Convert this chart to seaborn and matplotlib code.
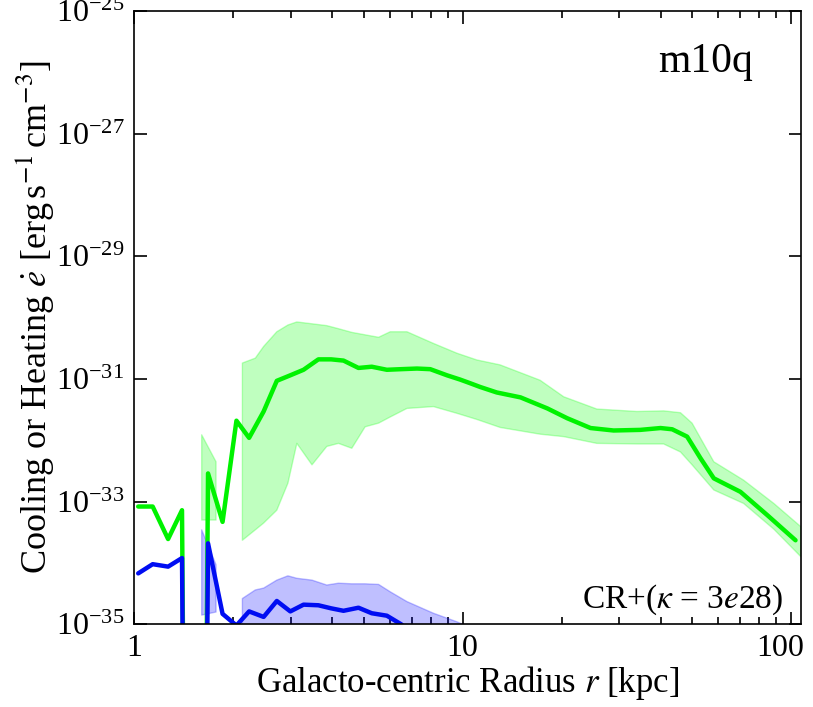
import numpy as np
import pandas as pd
import seaborn as sns
import matplotlib
matplotlib.use("Agg")
import matplotlib.pyplot as plt
from matplotlib.ticker import FixedLocator, NullLocator, LogLocator
from matplotlib.transforms import ScaledTranslation

# radius grid of the profiles [kpc]
radius = [1.03, 1.14, 1.27, 1.40, 1.53, 1.68, 1.86, 2.05, 2.24, 2.48,
          2.72, 2.99, 3.28, 3.64, 3.98, 4.34, 4.82, 5.29, 5.88, 6.50,
          7.26, 7.97, 8.96, 9.83, 10.55, 11.3, 12.7, 15.0, 18.1, 20.8,
          24.5, 28.8, 34.7, 40.0, 43.4, 48.2, 52.9, 58.1, 70.0, 84.5, 103.0]

# log10 of the median rates, -60 marks empty bins
green_log = [-33.08, -33.08, -33.61, -33.14, -60, -32.54, -33.33, -31.68, -31.96, -31.53,
             -31.03, -30.94, -30.85, -30.68, -30.68, -30.70, -30.82, -30.80, -30.85, -30.84,
             -30.83, -30.84, -30.94, -31.01, -31.07, -31.13, -31.22, -31.30, -31.48, -31.64,
             -31.80, -31.84, -31.83, -31.80, -31.82, -31.94, -32.29, -32.62, -32.84, -33.22, -33.63]
blue_log = [-34.17, -34.02, -34.06, -33.92, -60, -33.68, -34.83, -35.02, -34.79, -34.88,
            -34.62, -34.79, -34.68, -34.69, -34.74, -34.78, -34.73, -34.82, -34.86, -35.00,
            -35.25, -35.50, -35.80, -36.00, -36.20, -36.40, -36.70, -37.00, -37.30, -37.60,
            -37.90, -38.20, -38.50, -38.80, -39.00, -39.20, -39.40, -39.60, -39.80, -40.00, -40.20]

# percentile bands (NaN splits the two segments)
band_r = [1.607, 1.777, 1.95,
          2.137, 2.34, 2.48, 2.72, 2.94, 3.13, 3.48, 3.86, 4.19, 4.60,
          5.05, 5.55, 6.02, 6.77, 8.15, 9.61, 11.05, 13.0, 17.2, 20.3,
          25.6, 33.9, 40.9, 46.0, 49.9, 58.1, 71.6, 88.5, 107.0]
green_hi = [-31.91, -32.35, np.nan,
            -30.74, -30.66, -30.47, -30.23, -30.12, -30.07, -30.10, -30.13, -30.18, -30.24,
            -30.28, -30.32, -30.23, -30.23, -30.42, -30.58, -30.69, -30.77, -31.02, -31.29,
            -31.49, -31.53, -31.52, -31.55, -31.72, -32.35, -32.65, -33.03, -33.41]
green_lo = [-33.30, -33.30, np.nan,
            -33.63, -33.46, -33.35, -33.14, -32.70, -32.05, -32.40, -32.10, -32.05, -32.13,
            -31.78, -31.72, -31.62, -31.48, -31.45, -31.56, -31.66, -31.79, -31.90, -31.94,
            -32.05, -32.06, -32.06, -32.19, -32.40, -32.81, -33.03, -33.45, -33.90]
blue_hi = [-33.46, -34.03, np.nan,
           -34.58, -34.44, -34.41, -34.28, -34.21, -34.25, -34.28, -34.36, -34.33, -34.34,
           -34.34, -34.35, -34.47, -34.63, -34.82, -34.96, -35.10, -35.30, -35.60, -35.80,
           -36.00, -36.20, -36.40, -36.50, -36.60, -36.80, -37.00, -37.20, -37.40]
blue_lo = [-34.85, -34.80, np.nan,
           -35.30, -35.25, -35.20, -35.30, -35.30, -35.30, -35.30, -35.30, -35.30, -35.30,
           -35.40, -35.40, -35.50, -35.60, -35.80, -36.00, -36.20, -36.40, -36.60, -36.80,
           -37.00, -37.20, -37.40, -37.50, -37.60, -37.80, -38.00, -38.20, -38.40]

x_ticks = [1, 10, 100]
x_ticklabels = ["1", "10", "100"]

sns.set_style("ticks")
plt.rcParams["font.family"] = ["Liberation Serif", "DejaVu Serif"]
plt.rcParams["mathtext.fontset"] = "stix"
for key in ["text.color", "axes.labelcolor", "xtick.color", "ytick.color", "axes.edgecolor"]:
    plt.rcParams[key] = "black"

df = pd.DataFrame({"r": radius,
                   "green": 10.0 ** np.array(green_log),
                   "blue": 10.0 ** np.array(blue_log)})
band_r = np.array(band_r)

fig = plt.figure(figsize=(8.13, 7.07), dpi=100)
ax = fig.add_axes([0.1648, 0.1170, 0.8204, 0.8674])
ax.set_xscale("log")
ax.set_yscale("log")

ax.fill_between(band_r, 10.0 ** np.array(green_lo), 10.0 ** np.array(green_hi),
                color=(0, 1, 0), alpha=0.25, lw=1)
ax.fill_between(band_r, 10.0 ** np.array(blue_lo), 10.0 ** np.array(blue_hi),
                color=(0, 0, 1), alpha=0.25, lw=1)
sns.lineplot(data=df, x="r", y="green", color=(0, 0.95, 0), lw=3.2, ax=ax)
sns.lineplot(data=df, x="r", y="blue", color=(0, 0.05, 0.95), lw=3.2, ax=ax)

ax.set_xlim(1, 107)
ax.set_ylim(1e-35, 1e-25)
ax.yaxis.set_major_locator(FixedLocator([10.0 ** e for e in range(-35, -24, 2)]))
ax.yaxis.set_minor_locator(NullLocator())
ax.set_xticks(x_ticks, x_ticklabels)
ax.xaxis.set_minor_locator(LogLocator(base=10, subs=np.arange(2, 10), numticks=20))

ax.tick_params(which="both", direction="in", top=True, right=True, labelsize=23, width=1.2)
ax.tick_params(which="major", length=9, pad=7)
ax.tick_params(which="minor", length=5)
for s in ax.spines.values():
    s.set_linewidth(1.2)

# the last x label sits a bit left of its tick
lab = ax.xaxis.get_major_ticks()[2].label1
lab.set_transform(lab.get_transform() + ScaledTranslation(-8 / 72, 0, fig.dpi_scale_trans))

ax.set_xlabel(r"Galacto-centric Radius $r$ [kpc]", fontsize=25, labelpad=1)
ax.set_ylabel(r"Cooling or Heating $\dot{e}$ [erg$\,$s$^{-1}\,$cm$^{-3}$]", fontsize=26, labelpad=0)

ax.text(0.928, 0.917, "m10q", transform=ax.transAxes, fontsize=30, ha="right", va="center")
ax.text(0.973, 0.027, r"CR+($\kappa$ = 3$e$28)", transform=ax.transAxes, fontsize=24,
        ha="right", va="baseline")

fig.savefig("out.png", dpi=100)
